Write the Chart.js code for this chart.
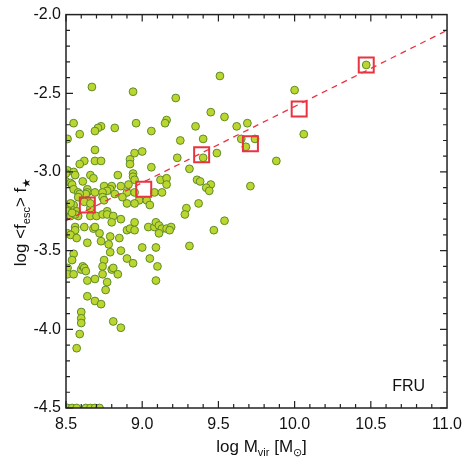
<!DOCTYPE html>
<html>
<head>
<meta charset="utf-8">
<script src="https://cdn.jsdelivr.net/npm/chart.js@4.4.1/dist/chart.umd.min.js"></script>
<style>
  html, body { margin: 0; padding: 0; background: #fff; }
  #wrap { width: 469px; height: 469px; }
</style>
</head>
<body>
<div id="wrap"><canvas id="grafica" width="469" height="469"></canvas></div>
<script>
// ---- datos ----
const xTicks = [8.5, 9.0, 9.5, 10.0, 10.5, 11.0];
const yTicks = [-4.5, -4.0, -3.5, -3.0, -2.5, -2.0];

// galaxias individuales: log Mvir y log <fesc> f*
const galaxyMass = [
  9.51, 8.67, 8.94, 9.22, 9.45, 9.54, 8.55, 8.96, 9.16, 9.15,
  9.35, 9.62, 9.69, 8.73, 8.71, 8.69, 8.82, 8.59, 9.06, 8.51,
  9.25, 9.40, 9.65, 9.74, 9.68, 8.69, 9.00, 8.95, 9.49, 9.23,
  9.40, 10.47, 10.00, 10.06, 9.88, 9.71, 8.62, 8.59, 8.69, 8.73,
  8.92, 8.92, 9.06, 9.31, 8.51, 8.55, 8.56, 8.50, 8.66, 8.68,
  8.84, 8.94, 8.94, 8.95, 8.50, 8.53, 8.61, 9.12, 9.16, 9.16,
  9.36, 9.38, 9.45, 9.42, 9.44, 8.54, 8.55, 8.75, 8.80, 8.79,
  8.77, 8.86, 8.91, 8.90, 8.64, 8.64, 8.63, 8.58, 8.59, 8.69,
  8.74, 8.82, 8.87, 9.08, 9.13, 8.95, 8.98, 9.03, 9.05, 8.90,
  8.95, 9.29, 9.37, 9.28, 8.74, 8.75, 8.77, 8.64, 8.62, 8.66,
  8.55, 8.53, 8.58, 8.66, 8.51, 8.53, 8.51, 8.57, 8.58, 8.53,
  8.56, 8.54, 8.66, 8.70, 8.74, 8.77, 8.81, 8.86, 8.80, 8.62,
  8.68, 8.69, 8.56, 8.56, 8.51, 8.53, 8.57, 8.72, 8.79, 8.85,
  8.64, 8.73, 8.78, 8.79, 8.86, 8.90, 8.92, 8.95, 8.95, 9.04,
  9.08, 9.09, 9.11, 9.13, 9.11, 9.16, 9.19, 9.18, 9.00, 9.09,
  9.05, 9.10, 9.09, 8.55, 8.54, 8.90, 8.94, 8.51, 8.51, 8.55,
  8.60, 8.61, 8.62, 8.63, 8.75, 8.74, 8.80, 8.81, 8.74, 8.84,
  8.64, 8.69, 8.77, 8.76, 8.64, 8.69, 8.73, 8.60, 8.60, 8.60,
  8.59, 8.57, 8.81, 8.86, 9.54, 9.47, 9.31, 8.51, 8.54, 8.57,
  8.63, 8.66, 8.69, 8.72
];
const galaxyFesc = [
  -2.39, -2.46, -2.49, -2.53, -2.62, -2.65, -2.69, -2.69, -2.67, -2.69,
  -2.71, -2.71, -2.69, -2.71, -2.72, -2.74, -2.72, -2.76, -2.74, -2.79,
  -2.80, -2.79, -2.79, -2.79, -2.84, -2.86, -2.87, -2.88, -2.88, -2.91,
  -2.91, -2.32, -2.48, -2.76, -2.93, -3.09, -2.93, -2.95, -2.93, -2.93,
  -2.92, -2.95, -2.97, -2.98, -2.99, -3.00, -3.02, -3.01, -3.02, -3.04,
  -3.02, -3.01, -3.03, -3.05, -3.06, -3.07, -3.06, -3.05, -3.04, -3.08,
  -3.05, -3.06, -3.08, -3.10, -3.12, -3.08, -3.11, -3.09, -3.09, -3.11,
  -3.12, -3.09, -3.08, -3.13, -3.11, -3.13, -3.14, -3.13, -3.14, -3.13,
  -3.13, -3.14, -3.16, -3.13, -3.13, -3.13, -3.18, -3.18, -3.21, -3.20,
  -3.20, -3.23, -3.20, -3.27, -3.16, -3.18, -3.25, -3.18, -3.19, -3.23,
  -3.21, -3.23, -3.16, -3.20, -3.23, -3.20, -3.25, -3.25, -3.28, -3.28,
  -3.27, -3.26, -3.28, -3.28, -3.27, -3.27, -3.28, -3.30, -3.32, -3.35,
  -3.36, -3.35, -3.35, -3.37, -3.39, -3.40, -3.42, -3.39, -3.41, -3.42,
  -3.45, -3.44, -3.46, -3.51, -3.50, -3.37, -3.36, -3.37, -3.32, -3.35,
  -3.35, -3.32, -3.34, -3.36, -3.39, -3.36, -3.35, -3.37, -3.48, -3.48,
  -3.55, -3.60, -3.69, -3.52, -3.56, -3.55, -3.58, -3.61, -3.65, -3.65,
  -3.62, -3.60, -3.61, -3.63, -3.56, -3.60, -3.62, -3.61, -3.65, -3.65,
  -3.69, -3.68, -3.70, -3.75, -3.79, -3.82, -3.84, -3.89, -3.93, -3.96,
  -4.03, -4.12, -3.95, -3.99, -3.31, -3.37, -3.47, -4.50, -4.50, -4.50,
  -4.50, -4.50, -4.50, -4.50
];

// medianas por intervalo de masa (cuadrados rojos)
const binMass = [8.64, 9.01, 9.39, 9.71, 10.03, 10.47];
const binFesc = [-3.21, -3.11, -2.89, -2.82, -2.60, -2.32];

// ajuste lineal (linea roja discontinua)
const fitMass = [8.5, 11.0];
const fitFesc = [-3.31, -2.10];

const FUENTE = "'Liberation Sans', Arial, Helvetica, sans-serif";
const ROJO = "#ea3340";

// dibuja texto con subindices, devuelve el ancho
function textoPartes(ctx, partes, x, y, medir) {
    let ancho = 0;
    partes.forEach(p => {
        ctx.font = (p.sub ? "11px " : "17px ") + FUENTE;
        if (!medir) ctx.fillText(p.t, x + ancho, y + (p.sub ? 4 : 0));
        ancho += ctx.measureText(p.t).width;
    });
    return ancho;
}

const marcoYTextos = {
    id: "marcoYTextos",
    afterDraw(chart) {
        const ctx = chart.ctx;
        const a = chart.chartArea;
        const xs = chart.scales.x, ys = chart.scales.y;
        ctx.save();
        ctx.strokeStyle = "#222";

        // marco
        ctx.lineWidth = 1.5;
        ctx.strokeRect(a.left, a.top, a.right - a.left, a.bottom - a.top);

        // marcas hacia dentro (mayores y menores)
        ctx.lineWidth = 1.2;
        ctx.beginPath();
        for (let i = 0; i < xTicks.length - 1; i++) {
            for (let k = 0; k < 5; k++) {
                const v = xTicks[i] + k * 0.1;
                const px = xs.getPixelForValue(v);
                const len = k === 0 ? 7 : 4;
                ctx.moveTo(px, a.bottom); ctx.lineTo(px, a.bottom - len);
                ctx.moveTo(px, a.top); ctx.lineTo(px, a.top + len);
            }
        }
        for (let i = 0; i < yTicks.length - 1; i++) {
            for (let k = 0; k < 5; k++) {
                const v = yTicks[i] + k * 0.1;
                const py = ys.getPixelForValue(v);
                const len = k === 0 ? 7 : 4;
                ctx.moveTo(a.left, py); ctx.lineTo(a.left + len, py);
                ctx.moveTo(a.right, py); ctx.lineTo(a.right - len, py);
            }
        }
        ctx.stroke();

        // titulos de ejes
        ctx.fillStyle = "#111";
        ctx.textBaseline = "alphabetic";
        ctx.textAlign = "left";
        const tx = [
            { t: "log M" }, { t: "vir", sub: true }, { t: " [M" }, { t: "\u2299", sub: true }, { t: "]" }
        ];
        const wx = textoPartes(ctx, tx, 0, 0, true);
        textoPartes(ctx, tx, (a.left + a.right) / 2 - wx / 2 + 5, 452, false);

        const ty = [
            { t: "log <f" }, { t: "esc", sub: true }, { t: "> f" }, { t: "\u2605", sub: true }
        ];
        const wy = textoPartes(ctx, ty, 0, 0, true);
        ctx.save();
        ctx.translate(26, 222);
        ctx.rotate(-Math.PI / 2);
        textoPartes(ctx, ty, -wy / 2, 0, false);
        ctx.restore();

        // etiqueta del modelo
        ctx.font = "16px " + FUENTE;
        ctx.textAlign = "right";
        ctx.fillText("FRU", a.right - 22, a.bottom - 17);
        ctx.restore();
    }
};

new Chart(document.getElementById("grafica"), {
    type: "scatter",
    data: {
        datasets: [
            {
                label: "medianas",
                data: binMass.map((m, i) => ({ x: m, y: binFesc[i] })),
                pointStyle: "rect",
                pointRadius: 10.6,
                backgroundColor: "rgba(0,0,0,0)",
                borderColor: ROJO,
                borderWidth: 2,
                order: 0
            },
            {
                label: "ajuste",
                type: "line",
                data: fitMass.map((m, i) => ({ x: m, y: fitFesc[i] })),
                borderColor: ROJO,
                borderWidth: 1.3,
                borderDash: [6, 5],
                pointRadius: 0,
                fill: false,
                order: 1
            },
            {
                label: "galaxias",
                data: galaxyMass.map((m, i) => ({ x: m, y: galaxyFesc[i] })),
                pointRadius: 3.9,
                borderWidth: 1,
                backgroundColor: "#bdd52f",
                borderColor: "#5c8c2a",
                clip: 0,
                order: 2
            }
        ]
    },
    options: {
        responsive: false,
        animation: false,
        devicePixelRatio: 1,
        layout: { padding: { left: 0, top: 14, right: 18, bottom: 0 } },
        plugins: {
            legend: { display: false },
            tooltip: { enabled: false }
        },
        scales: {
            x: {
                type: "linear",
                min: 8.5,
                max: 11.0,
                grid: { display: false, drawTicks: false },
                border: { display: false },
                afterBuildTicks: s => { s.ticks = xTicks.map(v => ({ value: v })); },
                afterFit: s => { s.height = 61; },
                ticks: {
                    padding: 7,
                    color: "#111",
                    font: { family: FUENTE, size: 16 },
                    maxRotation: 0,
                    autoSkip: false,
                    callback: v => v.toFixed(1)
                }
            },
            y: {
                type: "linear",
                min: -4.5,
                max: -2.0,
                grid: { display: false, drawTicks: false },
                border: { display: false },
                afterBuildTicks: s => { s.ticks = yTicks.map(v => ({ value: v })); },
                afterFit: s => { s.width = 66; },
                ticks: {
                    padding: 5,
                    color: "#111",
                    font: { family: FUENTE, size: 16 },
                    autoSkip: false,
                    callback: v => v.toFixed(1)
                }
            }
        }
    },
    plugins: [marcoYTextos]
});
</script>
</body>
</html>
